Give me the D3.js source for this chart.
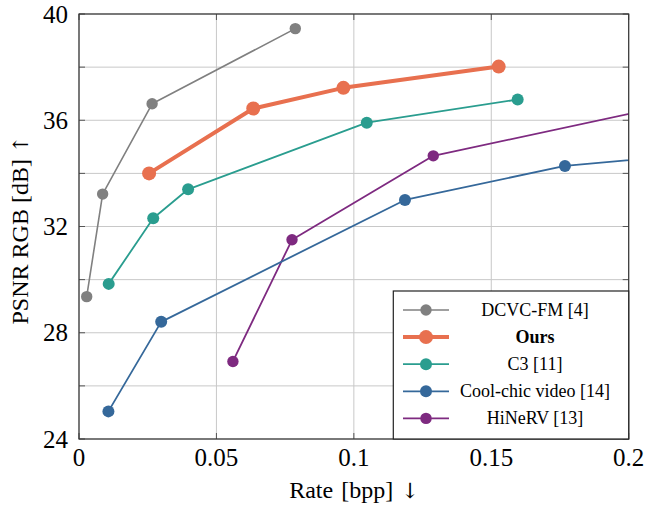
<!DOCTYPE html>
<html>
<head>
<meta charset="utf-8">
<script src="https://cdn.jsdelivr.net/npm/d3@7"></script>
<style>
  body { margin: 0; background: #fff; }
  text { font-family: "Liberation Serif", "Times New Roman", serif; fill: #000; }
  .arrow { font-family: "DejaVu Serif", serif; }
</style>
</head>
<body>
<svg width="645" height="508"></svg>
<script>
const svg = d3.select("svg");
const width = 645, height = 508;
const plotLeft = 79, plotRight = 628.7, plotTop = 14, plotBottom = 439;

// data
const seriesNames = ["DCVC-FM [4]", "Ours", "C3 [11]", "Cool-chic video [14]", "HiNeRV [13]"];
const seriesColors = ["#808080", "#e8704f", "#2a9d8f", "#35689a", "#7e2a80"];

const rateDCVC = [0.0028, 0.0086, 0.0266, 0.0787];
const psnrDCVC = [29.36, 33.22, 36.62, 39.45];

const rateOurs = [0.0255, 0.0634, 0.0962, 0.1527];
const psnrOurs = [34.0, 36.44, 37.22, 38.02];

const rateC3 = [0.0108, 0.0270, 0.0397, 0.1047, 0.1596];
const psnrC3 = [29.84, 32.31, 33.40, 35.91, 36.78];

const rateCoolchic = [0.0107, 0.0299, 0.1186, 0.1768, 0.25];
const psnrCoolchic = [25.04, 28.41, 33.0, 34.28, 34.97];

const rateHiNeRV = [0.0560, 0.0775, 0.1289, 0.25];
const psnrHiNeRV = [26.92, 31.5, 34.66, 37.35];

const xTicks = [0, 0.05, 0.1, 0.15, 0.2];
const xTickLabels = ["0", "0.05", "0.1", "0.15", "0.2"];
const yGrid = [24, 26, 28, 30, 32, 34, 36, 38, 40];
const yTickLabels = [24, 28, 32, 36, 40];

const series = [
    {name: seriesNames[0], color: seriesColors[0], x: rateDCVC, y: psnrDCVC, lw: 1.6, r: 5.7},
    {name: seriesNames[1], color: seriesColors[1], x: rateOurs, y: psnrOurs, lw: 4, r: 7, bold: true},
    {name: seriesNames[2], color: seriesColors[2], x: rateC3, y: psnrC3, lw: 1.8, r: 6},
    {name: seriesNames[3], color: seriesColors[3], x: rateCoolchic, y: psnrCoolchic, lw: 1.8, r: 6},
    {name: seriesNames[4], color: seriesColors[4], x: rateHiNeRV, y: psnrHiNeRV, lw: 1.8, r: 5.7}
];

const x = d3.scaleLinear().domain([0, 0.2]).range([plotLeft, plotRight]);
const y = d3.scaleLinear().domain([24, 40]).range([plotBottom, plotTop]);

svg.append("rect").attr("width", width).attr("height", height).attr("fill", "#fff");

svg.append("defs").append("clipPath").attr("id", "plot")
    .append("rect").attr("x", plotLeft).attr("y", plotTop)
    .attr("width", plotRight - plotLeft).attr("height", plotBottom - plotTop);

// grid
const grid = svg.append("g").attr("stroke", "#c8c8c8").attr("stroke-width", 1);
grid.selectAll(".gx").data(xTicks).enter().append("line")
    .attr("x1", d => x(d)).attr("x2", d => x(d))
    .attr("y1", plotTop).attr("y2", plotBottom);
grid.selectAll(".gy").data(yGrid).enter().append("line")
    .attr("x1", plotLeft).attr("x2", plotRight)
    .attr("y1", d => y(d)).attr("y2", d => y(d));

// ticks, inside and mirrored
const ticks = svg.append("g").attr("stroke", "#555").attr("stroke-width", 1);
const tl = 6;
xTicks.forEach(t => {
    ticks.append("line").attr("x1", x(t)).attr("x2", x(t)).attr("y1", plotBottom).attr("y2", plotBottom - tl);
    ticks.append("line").attr("x1", x(t)).attr("x2", x(t)).attr("y1", plotTop).attr("y2", plotTop + tl);
});
yGrid.forEach(t => {
    ticks.append("line").attr("x1", plotLeft).attr("x2", plotLeft + tl).attr("y1", y(t)).attr("y2", y(t));
    ticks.append("line").attr("x1", plotRight).attr("x2", plotRight - tl).attr("y1", y(t)).attr("y2", y(t));
});

// series
const plot = svg.append("g").attr("clip-path", "url(#plot)");
const line = d3.line();
const drawOrder = [4, 3, 2, 0, 1];
drawOrder.forEach(i => {
    const s = series[i];
    const pts = s.x.map((v, k) => [x(v), y(s.y[k])]);
    plot.append("path").attr("d", line(pts))
        .attr("fill", "none").attr("stroke", s.color)
        .attr("stroke-width", s.lw).attr("stroke-linejoin", "round");
    plot.selectAll(null).data(pts).enter().append("circle")
        .attr("cx", d => d[0]).attr("cy", d => d[1])
        .attr("r", s.r).attr("fill", s.color);
});

// frame
svg.append("rect").attr("x", plotLeft).attr("y", plotTop)
    .attr("width", plotRight - plotLeft).attr("height", plotBottom - plotTop)
    .attr("fill", "none").attr("stroke", "#333").attr("stroke-width", 1.2);

// tick labels
svg.selectAll(".xl").data(xTicks).enter().append("text")
    .attr("x", d => x(d)).attr("y", plotBottom + 27)
    .attr("text-anchor", "middle").attr("font-size", 25)
    .text((d, i) => xTickLabels[i]);
svg.selectAll(".yl").data(yTickLabels).enter().append("text")
    .attr("x", plotLeft - 11).attr("y", d => y(d) + 8.5)
    .attr("text-anchor", "end").attr("font-size", 25)
    .text(d => d);

// axis labels
const xl = svg.append("text").attr("x", 354).attr("y", 498)
    .attr("text-anchor", "middle").attr("font-size", 24)
    .attr("word-spacing", 2);
xl.append("tspan").text("Rate [bpp] ");
xl.append("tspan").attr("class", "arrow").attr("font-size", 21).text("↓");

const yl = svg.append("text")
    .attr("transform", "translate(28,230) rotate(-90)")
    .attr("text-anchor", "middle").attr("font-size", 24);
yl.append("tspan").text("PSNR RGB [dB] ");
yl.append("tspan").attr("class", "arrow").attr("font-size", 21).text("↑");

// legend
const lg = svg.append("g");
const lx0 = 393.3, ly0 = 291, lx1 = plotRight, ly1 = plotBottom;
lg.append("rect").attr("x", lx0).attr("y", ly0)
    .attr("width", lx1 - lx0).attr("height", ly1 - ly0)
    .attr("fill", "#fff").attr("stroke", "#222").attr("stroke-width", 1.2);
series.forEach((s, i) => {
    const ry = 310 + i * 27.1;
    lg.append("line").attr("x1", 403).attr("x2", 449).attr("y1", ry).attr("y2", ry)
        .attr("stroke", s.color).attr("stroke-width", s.lw);
    lg.append("circle").attr("cx", 426).attr("cy", ry).attr("r", s.r).attr("fill", s.color);
    lg.append("text").attr("x", 535).attr("y", ry + 6)
        .attr("text-anchor", "middle").attr("font-size", 18)
        .attr("font-weight", s.bold ? "bold" : "normal")
        .text(s.name);
});
</script>
</body>
</html>
